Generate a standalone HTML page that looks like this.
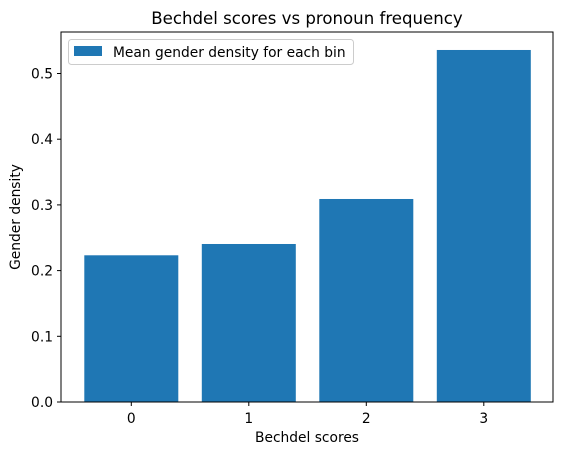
<!DOCTYPE html>
<html><head><meta charset="utf-8"><style>
body{margin:0;background:#fff;}
svg{display:block;font-family:"DejaVu Sans","Liberation Sans",sans-serif;}
</style></head><body>
<svg id="chart" width="567" height="455">
<rect width="567" height="455" fill="#fff"/>
<text x="307" y="24" font-size="16.6" text-anchor="middle" fill="#000">Bechdel scores vs pronoun frequency</text>
<g id="bars"></g>
<g id="axes"></g>
<text x="307" y="442" font-size="13.8" text-anchor="middle">Bechdel scores</text>
<text transform="translate(20,217) rotate(-90)" font-size="13.8" text-anchor="middle">Gender density</text>
<g>
<rect x="68.5" y="39.5" width="285" height="25" rx="3" fill="#fff" stroke="#ccc"/>
<rect x="74" y="46" width="28" height="10" fill="#1f77b4"/>
<text x="113" y="57" font-size="13.8">Mean gender density for each bin</text>
</g>
</svg>
<script>
const categories = ["0","1","2","3"];
const values = [0.2233, 0.2405, 0.309, 0.5358];
const yTicks = [0.0,0.1,0.2,0.3,0.4,0.5];
const L=61,R=553,T=32,B=402;
const xs=i=>131.3+i*117.5;
const ys=v=>B-v*657;
const ns="http://www.w3.org/2000/svg";
const bars=document.getElementById('bars'), axes=document.getElementById('axes');
function mk(tag,attrs,parent){const e=document.createElementNS(ns,tag);for(const k in attrs)e.setAttribute(k,attrs[k]);parent.appendChild(e);return e;}
values.forEach((v,i)=>{
  const w=0.8*117.5;
  const r=mk('rect',{x:xs(i)-w/2,y:ys(v),width:w,height:B-ys(v),fill:'#1f77b4'},bars);
  
  
});
const frame=mk('rect',{x:L,y:T,width:R-L,height:B-T,fill:'none',stroke:'#000','stroke-width':1},axes);


categories.forEach((c,i)=>{
  mk('line',{x1:xs(i),x2:xs(i),y1:B,y2:B+4,stroke:'#000'},axes);
  const t=mk('text',{x:xs(i),y:B+21,'font-size':13.8,'text-anchor':'middle'},axes);
  t.textContent=c;
  
  
});
yTicks.forEach(v=>{
  mk('line',{x1:L-4,x2:L,y1:ys(v),y2:ys(v),stroke:'#000'},axes);
  const t=mk('text',{x:L-8,y:ys(v)+5,'font-size':13.8,'text-anchor':'end'},axes);
  t.textContent=v.toFixed(1);
  
  
});
</script>
</body></html>
